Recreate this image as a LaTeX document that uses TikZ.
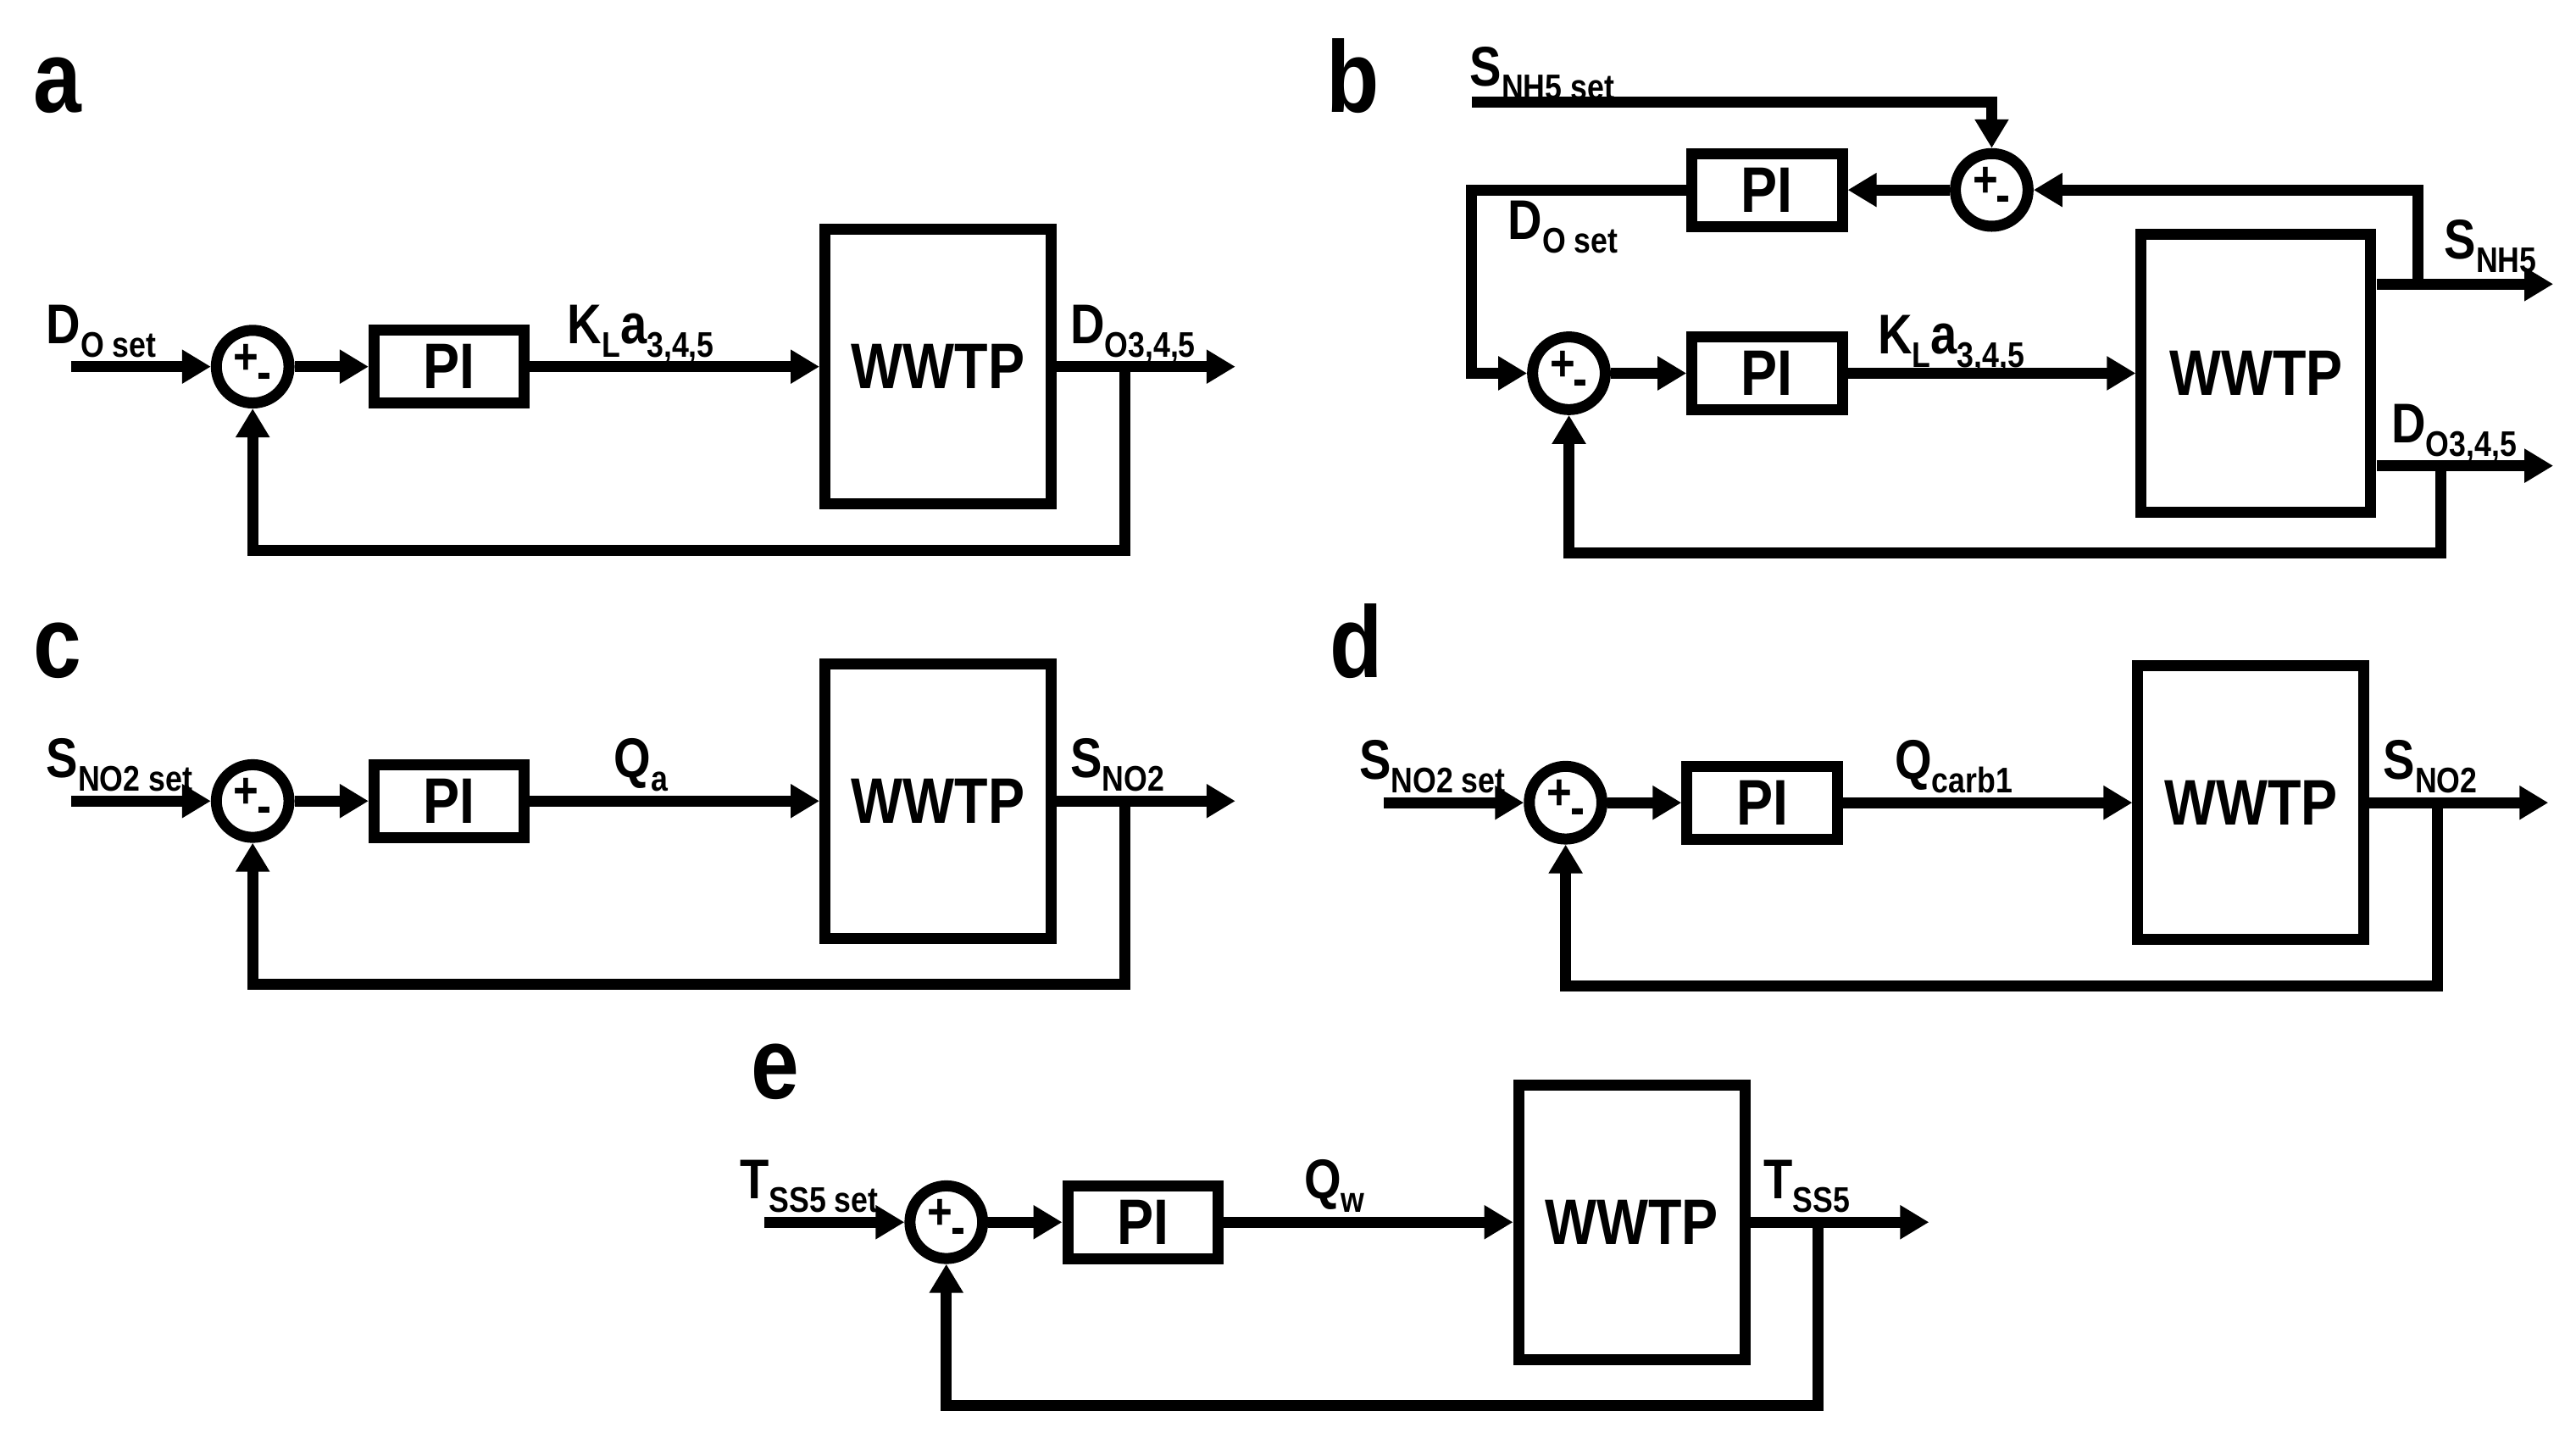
\documentclass[tikz,border=0pt]{standalone}
\usepackage{fontspec}
\setmainfont{Liberation Sans}[FakeStretch=0.85]
\usetikzlibrary{arrows.meta}
\def\pxu{1.949pt}
\newcommand\flab{\fontsize{66}{70}\selectfont\bfseries}
\newcommand\fblk{\fontsize{76}{80}\selectfont\bfseries}
\newcommand\fpan{\fontsize{120}{125}\selectfont\bfseries}
\newcommand\sbs[1]{\raisebox{-16pt}{\fontsize{42}{42}\selectfont\bfseries #1}}
\newcommand\sgn{{\fontsize{60}{60}\selectfont\bfseries +\kern-2pt\raisebox{-18pt}{-}}}
\begin{document}
\begin{tikzpicture}[x=1.949pt,y=-1.949pt,
  ln/.style={line width=13pt},
  arr/.style={line width=13pt,-{Triangle[length=34pt,width=38pt]}},
  blk/.style={draw,line width=13pt,font=\fblk,inner sep=0},
  pib/.style={blk,minimum width=91*\pxu,minimum height=44*\pxu},
  plb/.style={blk,minimum width=137*\pxu,minimum height=166*\pxu},
  sum/.style={draw,circle,line width=13pt,minimum size=44*\pxu,inner sep=0},
  lbl/.style={font=\flab,inner sep=0,anchor=base west},
  pan/.style={font=\fpan,inner sep=0,anchor=base west},
  pics/loop/.style n args={3}{code={
    \node[sum] (-sum) at (0,0) {\sgn};
    \node[pib] (-pi) at (119,0) {PI};
    \node[plb] (-plant) at (415,0) {WWTP};
    \coordinate (-in) at (-110,0);
    \coordinate (-out) at (595,0);
    \coordinate (-fb) at (528,0);
    \coordinate (-fbb) at (528,111);
    \coordinate (-bot) at (0,111);
    \draw[arr] (-in) -- (-sum);
    \draw[arr] (-sum) -- (-pi);
    \draw[arr] (-pi) -- (-plant);
    \draw[arr] (-plant) -- (-out);
    \draw[arr] (-fb) -- (-fbb) -- (-bot) -- (-sum);
    \node[lbl] (-l1) at (-125,-14) {#1};
    \node[lbl,anchor=base] (-l2) at (235,-14) {#2};
    \node[lbl] (-l3) at (495,-14) {#3};
  }}]
\useasboundingbox (0,0) rectangle (1559.8,867.6);
% panel letters
\node[pan] (la) at (20,68) {a};
\node[pan] (lb) at (803,68) {b};
\node[pan] (lc) at (20,410) {c};
\node[pan] (ld) at (805,410) {d};
\node[pan] (le) at (455,665) {e};
% loops
\pic (A) at (153,222) {loop={D\sbs{O set}}{K\sbs{L}a\sbs{3,4,5}}{D\sbs{O3,4,5}}};
\pic (C) at (153,485) {loop={S\sbs{NO2 set}}{Q\sbs{a}}{S\sbs{NO2}}};
\pic (D) at (948,486) {loop={S\sbs{NO2 set}}{Q\sbs{carb1}}{S\sbs{NO2}}};
\pic (E) at (573,740) {loop={T\sbs{SS5 set}}{Q\sbs{w}}{T\sbs{SS5}}};
% panel b
\node[sum] (bs1) at (950,226) {\sgn};
\node[pib] (bpi1) at (1070,226) {PI};
\node[blk,minimum width=139*\pxu,minimum height=168*\pxu] (bpl) at (1366,226) {WWTP};
\node[sum] (bs2) at (1206,115) {\sgn};
\node[pib] (bpi2) at (1070,115) {PI};
\coordinate (bset) at (891,62);
\coordinate (bsetc) at (1206,62);
\coordinate (bo1) at (1546,172);
\coordinate (bo1a) at (1439,172);
\coordinate (bbr) at (1464,172);
\coordinate (bbrt) at (1464,115);
\coordinate (bo2) at (1546,282);
\coordinate (bo2a) at (1439,282);
\coordinate (bfb) at (1478,282);
\coordinate (bfbb) at (1478,335);
\coordinate (bbot) at (950,335);
\coordinate (bl1) at (891,115);
\coordinate (bl2) at (891,226);
\draw[arr] (bset) -- (bsetc) -- (bs2);
\draw[arr] (bs2) -- (bpi2);
\draw[arr] (bpi2) -- (bl1) -- (bl2) -- (bs1);
\draw[arr] (bs1) -- (bpi1);
\draw[arr] (bpi1) -- (bpl);
\draw[arr] (bo1a) -- (bo1);
\draw[arr] (bo2a) -- (bo2);
\draw[arr] (bbr) -- (bbrt) -- (bs2);
\draw[arr] (bfb) -- (bfbb) -- (bbot) -- (bs1);
\node[lbl] (bl_a) at (890,52) {S\sbs{NH5 set}};
\node[lbl] (bl_b) at (913,145) {D\sbs{O set}};
\node[lbl] (bl_c) at (1137,214) {K\sbs{L}a\sbs{3,4,5}};
\node[lbl] (bl_d) at (1480,157) {S\sbs{NH5}};
\node[lbl] (bl_e) at (1448,268) {D\sbs{O3,4,5}};
\end{tikzpicture}
\end{document}
